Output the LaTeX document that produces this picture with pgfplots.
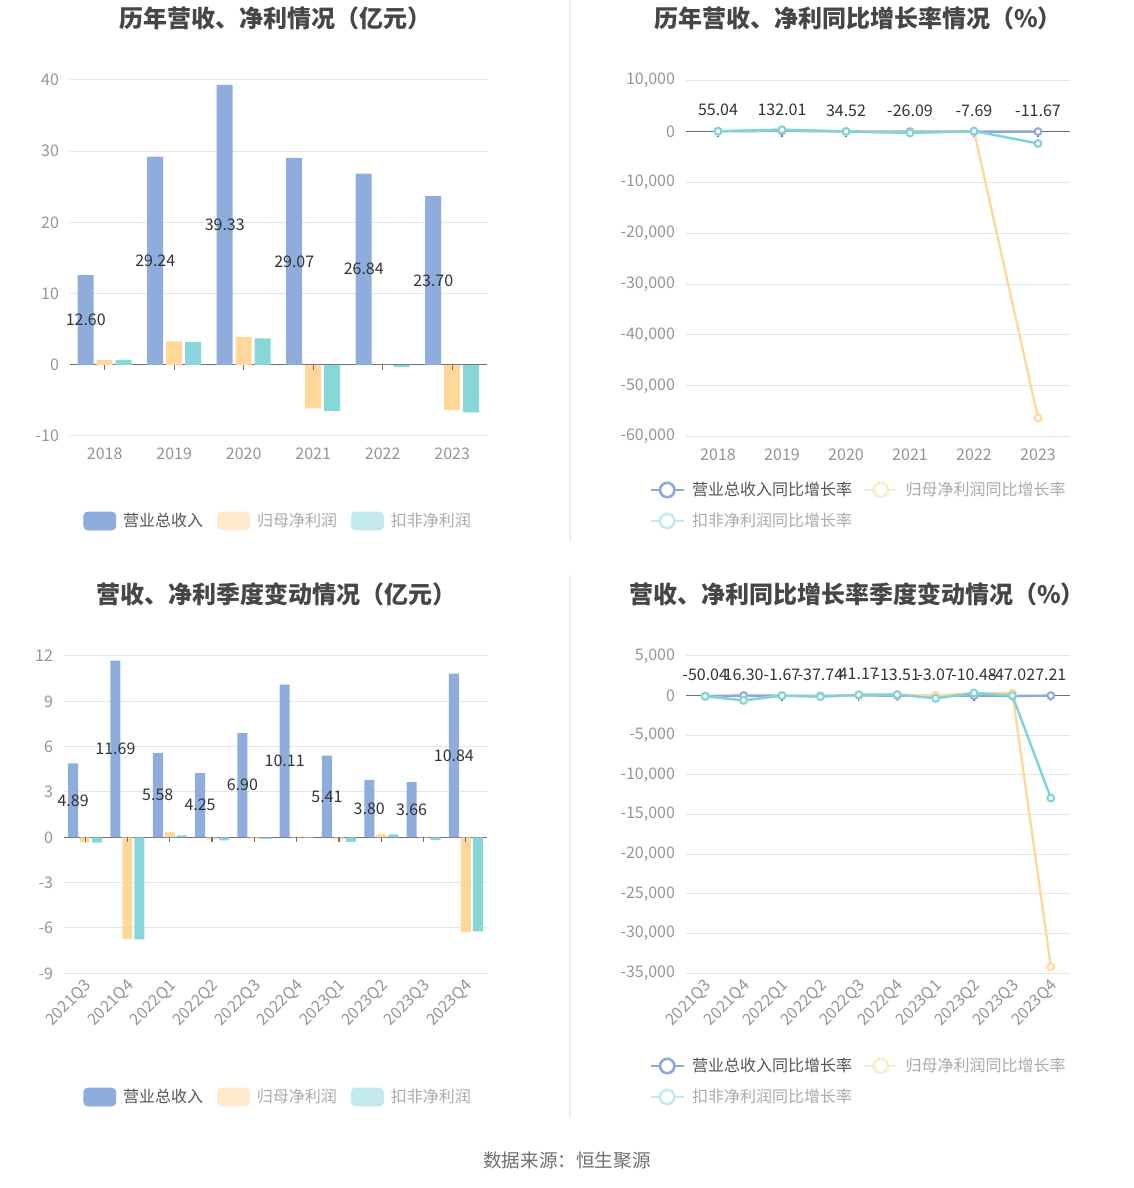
\documentclass[border=0pt]{standalone}
\usepackage{fontspec}
\setmainfont{Noto Sans CJK SC}
\usepackage{pgfplots}
\usepackage{pgfplotstable}
\pgfplotsset{compat=1.18}
\pgfkeys{/pgf/number format/assume math mode=true}

\definecolor{barblue}{HTML}{8FADDC}
\definecolor{barorange}{HTML}{FFD799}
\definecolor{barteal}{HTML}{86D6DA}
\definecolor{lblue}{HTML}{8DA8DC}
\definecolor{lorange}{HTML}{FFD99C}
\definecolor{lteal}{HTML}{7ED4D7}
\definecolor{forange}{HTML}{FFEBCC}
\definecolor{fteal}{HTML}{C3EBED}
\definecolor{gridc}{HTML}{E0E6F1}
\definecolor{zeroc}{HTML}{6E7079}
\definecolor{tickc}{HTML}{959595}
\definecolor{labc}{HTML}{333333}
\definecolor{titlec}{HTML}{464646}
\definecolor{legdark}{HTML}{555555}
\definecolor{leglight}{HTML}{ABABAB}
\definecolor{sepc}{HTML}{EEEEEE}
\definecolor{srcc}{HTML}{707070}

% annual values (亿元)
\pgfplotstableread{
i rev net ded
0 12.60 0.70 0.70
1 29.24 3.30 3.20
2 39.33 3.90 3.70
3 29.07 -6.13 -6.46
4 26.84 -0.02 -0.28
5 23.70 -6.32 -6.70
}\annual

% annual yoy growth (%)
\pgfplotstableread{
i rev net ded
0 55.04 40 60
1 132.01 370 357
2 34.52 18 16
3 -26.09 -256 -275
4 -7.69 99.7 95.7
5 -11.67 -56300 -2340
}\growth

% quarterly values (亿元)
\pgfplotstableread{
i rev net ded
0 4.89 -0.33 -0.35
1 11.69 -6.72 -6.76
2 5.58 0.33 0.13
3 4.25 -0.15 -0.20
4 6.90 -0.08 -0.10
5 10.11 0.02 -0.03
6 5.41 -0.10 -0.30
7 3.80 0.20 0.20
8 3.66 0.02 -0.18
9 10.84 -6.26 -6.23
}\quarter

% quarterly yoy growth (%)
\pgfplotstableread{
i rev net ded
0 -50.04 -60 -80
1 16.30 -600 -590
2 -1.67 30 0
3 -37.74 -120 -130
4 41.17 100 120
5 -13.51 110 130
6 -3.07 0 -340
7 -10.48 300 340
8 -47.02 320 0
9 7.21 -34170 -12900
}\qgrowth

\pgfplotsset{
  base/.style={
    scale only axis, clip=false,
    axis line style={draw=none}, tick style={draw=none},
    ymajorgrids, grid style={gridc, line width=0.5pt},
    tick label style={font=\fontsize{8}{9.6}\selectfont, text=tickc},
    yticklabel style={xshift=-2pt},
    scaled y ticks=false,
    extra y ticks={0},
    extra y tick style={major grid style={zeroc, line width=0.6pt}},
    legend style={draw=none, fill=none, inner sep=0pt, nodes={inner sep=0pt},
      font=\fontsize{8}{9.6}\selectfont,
      /tikz/every odd column/.style={column sep=3.5pt},
      /tikz/every even column/.style={column sep=7pt}},
    legend cell align=left,
  },
  yearticks/.style={xtick={0,...,5}, xticklabels={2018,2019,2020,2021,2022,2023},
    xticklabel style={yshift=-2.5pt}},
  qticks/.style={xtick={0,...,9},
    xticklabels={2021Q3,2021Q4,2022Q1,2022Q2,2022Q3,2022Q4,2023Q1,2023Q2,2023Q3,2023Q4},
    xticklabel style={rotate=45, anchor=north east, inner sep=1pt, xshift=-1pt}},
  barlab/.style={draw=none, mark=none, forget plot,
    point meta=explicit symbolic, nodes near coords,
    nodes near coords align={center},
    every node near coord/.append style={anchor=center, xshift=#1,
      font=\fontsize{8}{9.6}\selectfont, text=labc, inner sep=0pt}},
  ratelab/.style={point meta=explicit symbolic, nodes near coords,
    nodes near coords align={center},
    every node near coord/.append style={anchor=center, yshift=10.5pt,
      font=\fontsize{8}{9.6}\selectfont, text=labc, inner sep=0pt}},
  rline/.style={#1, line width=1.2pt, mark=*, mark size=1.7pt,
    mark options={fill=white, line width=1pt}, forget plot},
  barleg/.style={legend image code/.code={\fill[#1,rounded corners=2pt] (0pt,-4.5pt) rectangle (16pt,4.5pt);}},
  lineleg/.style={legend image code/.code={\draw[#1,line width=1.3pt] (0pt,0pt) -- (16.5pt,0pt);
      \draw[#1,line width=1.3pt,fill=white] (8.25pt,0pt) circle (3.6pt);}},
  lineleglayout/.style={legend columns=2,
    legend style={/tikz/every even column/.style={column sep=5.5pt}, /tikz/row sep=7pt}},
}

\begin{document}
\begin{tikzpicture}
\useasboundingbox (0,0) rectangle (567pt,594pt);
\fill[white] (0,0) rectangle (567pt,594pt);
\draw[sepc, line width=0.6pt] (285pt,594pt) -- (285pt,323.5pt);
\draw[sepc, line width=0.6pt] (285pt,306.5pt) -- (285pt,35pt);

\node[font=\bfseries\fontsize{12}{14}\selectfont, text=titlec] at (137.5pt,585pt) {历年营收、净利情况（亿元）};
\node[font=\bfseries\fontsize{12}{14}\selectfont, text=titlec] at (429pt,585pt) {历年营收、净利同比增长率情况（\%）};
\node[font=\bfseries\fontsize{12}{14}\selectfont, text=titlec] at (138pt,297pt) {营收、净利季度变动情况（亿元）};
\node[font=\bfseries\fontsize{12}{14}\selectfont, text=titlec] at (428.5pt,297pt) {营收、净利同比增长率季度变动情况（\%）};
\node[font=\fontsize{9.3}{11}\selectfont, text=srcc] at (283.5pt,13.5pt) {数据来源：恒生聚源};

% ---- annual bars
\begin{axis}[base, yearticks, at={(35pt,376pt)}, anchor=south west,
  width=208.5pt, height=178pt,
  xmin=-0.5, xmax=5.5, ymin=-10, ymax=40, ytick={-10,10,20,30,40},
  legend style={at={(0.0312,-0.2388)}, anchor=west}, legend columns=3]
\addlegendimage{barleg=barblue}\addlegendentry{\textcolor{legdark}{营业总收入}}
\addlegendimage{barleg=forange}\addlegendentry{\textcolor{leglight}{归母净利润}}
\addlegendimage{barleg=fteal}\addlegendentry{\textcolor{leglight}{扣非净利润}}
\addplot[ybar, bar width=8pt, bar shift=-9.5pt, fill=barblue, draw=none, forget plot] table[x=i,y=rev]{\annual};
\addplot[ybar, bar width=8pt, bar shift=0pt, fill=barorange, draw=none, forget plot] table[x=i,y=net]{\annual};
\addplot[ybar, bar width=8pt, bar shift=9.5pt, fill=barteal, draw=none, forget plot] table[x=i,y=ded]{\annual};
\pgfplotsinvokeforeach{0,...,5}{\draw[zeroc, line width=0.6pt] (axis cs:#1,0) -- ([yshift=-2.5pt]axis cs:#1,0);}
\addplot[barlab=-9.5pt] table[x=i, y expr=\thisrow{rev}/2, meta=rev]{\annual};
\end{axis}

% ---- annual growth
\begin{axis}[base, yearticks, lineleglayout, at={(343pt,375.65pt)}, anchor=south west,
  width=192pt, height=178pt,
  xmin=-0.5, xmax=5.5, ymin=-60000, ymax=10000,
  ytick={-60000,-50000,-40000,-30000,-20000,-10000,10000},
  legend style={at={(-0.0963,-0.1933)}, anchor=west}]
\addlegendimage{lineleg=lblue}\addlegendentry{\textcolor{legdark}{营业总收入同比增长率}}
\addlegendimage{lineleg=forange}\addlegendentry{\textcolor{leglight}{归母净利润同比增长率}}
\addlegendimage{lineleg=fteal}\addlegendentry{\textcolor{leglight}{扣非净利润同比增长率}}
\pgfplotsinvokeforeach{0,...,5}{\draw[zeroc, line width=0.6pt] (axis cs:#1,0) -- ([yshift=-2.5pt]axis cs:#1,0);}
\addplot[rline=lblue, ratelab] table[x=i,y=rev,meta=rev]{\growth};
\addplot[rline=lorange] table[x=i,y=net]{\growth};
\addplot[rline=lteal] table[x=i,y=ded]{\growth};
\end{axis}

% ---- quarterly bars
\begin{axis}[base, qticks, at={(32pt,107.35pt)}, anchor=south west,
  width=211.5pt, height=158.65pt,
  xmin=-0.5, xmax=9.5, ymin=-9, ymax=12, ytick={-9,-6,-3,3,6,9,12},
  legend style={at={(0.0449,-0.390)}, anchor=west}, legend columns=3]
\addlegendimage{barleg=barblue}\addlegendentry{\textcolor{legdark}{营业总收入}}
\addlegendimage{barleg=forange}\addlegendentry{\textcolor{leglight}{归母净利润}}
\addlegendimage{barleg=fteal}\addlegendentry{\textcolor{leglight}{扣非净利润}}
\addplot[ybar, bar width=5pt, bar shift=-6pt, fill=barblue, draw=none, forget plot] table[x=i,y=rev]{\quarter};
\addplot[ybar, bar width=5pt, bar shift=0pt, fill=barorange, draw=none, forget plot] table[x=i,y=net]{\quarter};
\addplot[ybar, bar width=5pt, bar shift=6pt, fill=barteal, draw=none, forget plot] table[x=i,y=ded]{\quarter};
\pgfplotsinvokeforeach{0,...,9}{\draw[zeroc, line width=0.6pt] (axis cs:#1,0) -- ([yshift=-2.5pt]axis cs:#1,0);}
\addplot[barlab=-6pt] table[x=i, y expr=\thisrow{rev}/2, meta=rev]{\quarter};
\end{axis}

% ---- quarterly growth
\begin{axis}[base, qticks, lineleglayout, at={(343pt,107.35pt)}, anchor=south west,
  width=192pt, height=158.65pt,
  xmin=-0.5, xmax=9.5, ymin=-35000, ymax=5000,
  ytick={-35000,-30000,-25000,-20000,-15000,-10000,-5000,5000},
  legend style={at={(-0.0963,-0.341)}, anchor=west}]
\addlegendimage{lineleg=lblue}\addlegendentry{\textcolor{legdark}{营业总收入同比增长率}}
\addlegendimage{lineleg=forange}\addlegendentry{\textcolor{leglight}{归母净利润同比增长率}}
\addlegendimage{lineleg=fteal}\addlegendentry{\textcolor{leglight}{扣非净利润同比增长率}}
\pgfplotsinvokeforeach{0,...,9}{\draw[zeroc, line width=0.6pt] (axis cs:#1,0) -- ([yshift=-2.5pt]axis cs:#1,0);}
\addplot[rline=lblue, ratelab] table[x=i,y=rev,meta=rev]{\qgrowth};
\addplot[rline=lorange] table[x=i,y=net]{\qgrowth};
\addplot[rline=lteal] table[x=i,y=ded]{\qgrowth};
\end{axis}
\end{tikzpicture}
\end{document}
